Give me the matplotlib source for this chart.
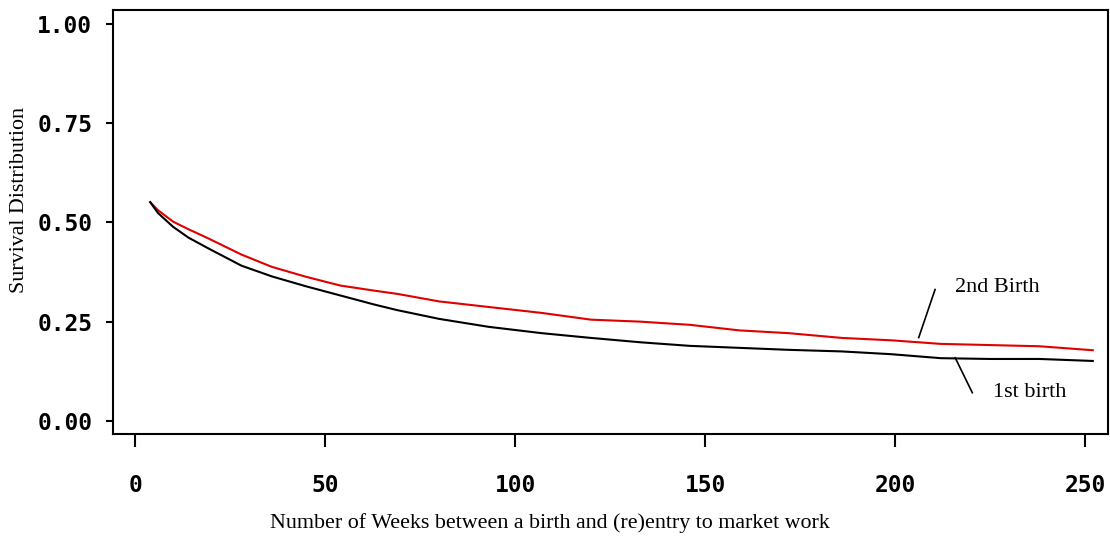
import matplotlib

matplotlib.use("Agg")
import matplotlib.pyplot as plt

# survival curves (weeks, survival share)
weeks_first = [4, 6, 10, 14, 19, 28, 36, 45, 54, 63, 69, 80, 93, 107, 120, 133, 146, 159, 172, 186, 199, 212, 225, 238, 252]
surv_first = [0.551, 0.524, 0.489, 0.462, 0.436, 0.391, 0.364, 0.339, 0.316, 0.293, 0.279, 0.257, 0.237, 0.221, 0.209, 0.198, 0.189, 0.184, 0.179, 0.175, 0.168, 0.158, 0.156, 0.156, 0.151]

weeks_second = [4, 6, 10, 14, 19, 28, 36, 45, 54, 63, 69, 80, 93, 107, 120, 133, 146, 159, 172, 186, 199, 212, 225, 238, 252]
surv_second = [0.551, 0.531, 0.502, 0.483, 0.461, 0.419, 0.388, 0.363, 0.341, 0.328, 0.320, 0.301, 0.287, 0.272, 0.255, 0.250, 0.242, 0.228, 0.221, 0.209, 0.203, 0.194, 0.191, 0.188, 0.178]

x_ticks = [0, 50, 100, 150, 200, 250]
y_ticks = [0.0, 0.25, 0.5, 0.75, 1.0]

fig = plt.figure(figsize=(11.1, 5.36), dpi=100)
ax = fig.add_axes([0.1018, 0.1903, 0.8964, 0.791])

ax.plot(weeks_second, surv_second, color="#e00000", lw=1.5)
ax.plot(weeks_first, surv_first, color="black", lw=1.5)

ax.set_xlim(-5.8, 256)
ax.set_ylim(-0.033, 1.035)
ax.set_xticks(x_ticks)
ax.set_yticks(y_ticks)
ax.set_xticklabels([str(t) for t in x_ticks])
ax.set_yticklabels([f"{t:.2f}" for t in y_ticks])

for lab in ax.get_xticklabels() + ax.get_yticklabels():
    lab.set_fontfamily("DejaVu Sans Mono")
    lab.set_fontweight("bold")
    lab.set_fontsize(16.5)

ax.tick_params(axis="x", direction="out", length=9.5, width=1.5, pad=19)
ax.tick_params(axis="y", direction="out", length=5, width=1.5, pad=10)
for sp in ax.spines.values():
    sp.set_linewidth(1.5)

serif = "Liberation Serif"
# curve labels with leader lines
ax.text(215.8, 0.336, "2nd Birth", family=serif, size=16, va="center", ha="left")
ax.plot([210.5, 206.2], [0.331, 0.210], color="black", lw=1.2)
ax.text(225.8, 0.071, "1st birth", family=serif, size=16, va="center", ha="left")
ax.plot([215.8, 220.3], [0.159, 0.071], color="black", lw=1.2)

fig.text(550 / 1110, 1 - 523 / 536, "Number of Weeks between a birth and (re)entry to market work",
         family=serif, size=15.8, ha="center", va="center")
fig.text(20 / 1110, 1 - 200 / 536, "Survival Distribution",
         family=serif, size=15.8, ha="center", va="center", rotation=90)

fig.savefig("out.png", dpi=100)
